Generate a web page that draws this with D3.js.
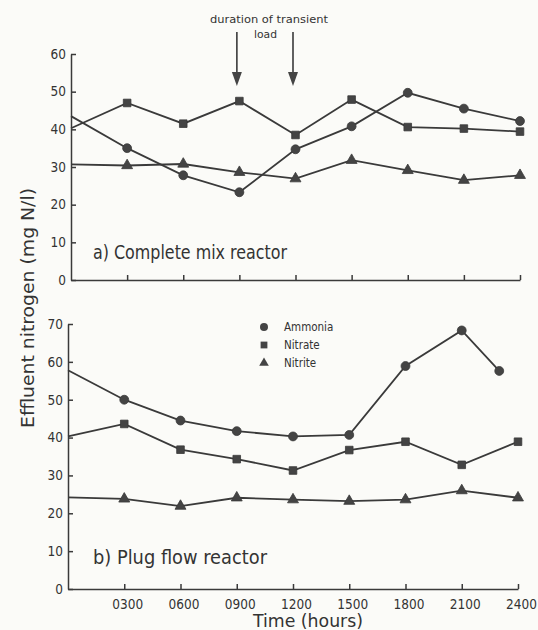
<!DOCTYPE html>
<html>
<head>
<meta charset="utf-8">
<script src="https://cdn.jsdelivr.net/npm/d3@7"></script>
<style>
  body { margin: 0; background: #fbfbf8; }
  svg { display: block; }
  text { font-family: "DejaVu Sans Condensed", "DejaVu Sans", sans-serif; fill: #333; font-stretch: condensed; }
  .axis path, .axis line { stroke: #3a3a3a; stroke-width: 1.5; }
  .axis text { font-size: 13.5px; fill: #333; font-family: "DejaVu Sans Condensed", "DejaVu Sans", sans-serif; }
</style>
</head>
<body>
<script>
// Effluent nitrogen, complete mix vs plug flow reactor

// time of day (hours)
var hours = [0, 300, 600, 900, 1200, 1500, 1800, 2100, 2400];
var tickHours = [300, 600, 900, 1200, 1500, 1800, 2100, 2400];

// a) complete mix reactor
var mixAmmonia = [43.5, 35, 27.8, 23.3, 34.7, 40.8, 49.7, 45.5, 42.2];
var mixNitrate = [40.3, 47, 41.5, 47.5, 38.5, 47.9, 40.6, 40.2, 39.4];
var mixNitrite = [30.7, 30.4, 30.8, 28.6, 26.9, 31.8, 29.1, 26.5, 27.8];

// b) plug flow reactor (ammonia last sample taken at 2300)
var plugAmmoniaHours = [0, 300, 600, 900, 1200, 1500, 1800, 2100, 2300];
var plugAmmonia = [57.8, 50, 44.5, 41.7, 40.3, 40.7, 58.9, 68.3, 57.6];
var plugNitrate = [40.3, 43.6, 36.8, 34.3, 31.3, 36.7, 38.9, 32.8, 38.9];
var plugNitrite = [24.2, 23.8, 21.9, 24.1, 23.6, 23.2, 23.6, 26, 24.1];

var legendNames = ["Ammonia", "Nitrate", "Nitrite"];
var arrowHours = [900, 1200];

var width = 538, height = 630;
var ink = "#3a3a3a";

var svg = d3.select("body").append("svg")
    .attr("width", width)
    .attr("height", height);

// scales for both panels
var xTop = d3.scaleLinear().domain([0, 2400]).range([71, 520]);
var yTop = d3.scaleLinear().domain([0, 60]).range([280, 54]);
var xBot = d3.scaleLinear().domain([0, 2400]).range([68, 518]);
var yBot = d3.scaleLinear().domain([0, 70]).range([589, 324]);

var symbols = [d3.symbolCircle, d3.symbolSquare, d3.symbolTriangle];
var symSizes = [62, 58, 52];

function drawPanel(xScale, yScale, yMax, showLabels, series) {
    // x axis, ticks point up
    var xAxis = d3.axisBottom(xScale)
        .tickValues(tickHours)
        .tickSizeInner(-5)
        .tickSizeOuter(0)
        .tickPadding(7)
        .tickFormat(showLabels ? d3.format("04d") : "");
    var gx = svg.append("g")
        .attr("class", "x axis")
        .attr("transform", "translate(0," + yScale(0) + ")")
        .call(xAxis);
    gx.selectAll("text").attr("dy", "0.95em").attr("dx", 3);

    // y axis, ticks point right
    var yAxis = d3.axisLeft(yScale)
        .tickValues(d3.range(0, yMax + 1, 10))
        .tickSizeInner(-5)
        .tickSizeOuter(0)
        .tickPadding(6);
    var gy = svg.append("g")
        .attr("class", "y axis")
        .attr("transform", "translate(" + xScale(0) + ",0)")
        .call(yAxis);
    gy.selectAll("text").attr("x", -5);

    var line = d3.line()
        .x(function(d) { return xScale(d[0]); })
        .y(function(d) { return yScale(d[1]); });

    series.forEach(function(s, i) {
        var pts = s.x.map(function(h, j) { return [h, s.y[j]]; });
        svg.append("path")
            .datum(pts)
            .attr("d", line)
            .attr("fill", "none")
            .attr("stroke", ink)
            .attr("stroke-width", 1.8);

        // no marker on the axis itself
        svg.selectAll(null)
            .data(pts.filter(function(d) { return d[0] > 0; }))
            .enter().append("path")
            .attr("d", d3.symbol().type(symbols[i]).size(symSizes[i]))
            .attr("transform", function(d) {
                return "translate(" + xScale(d[0]) + "," + yScale(d[1]) + ")";
            })
            .attr("fill", "#444")
            .attr("stroke", ink)
            .attr("stroke-width", 0.8);
    });
}

drawPanel(xTop, yTop, 60, false, [
    {x: hours, y: mixAmmonia},
    {x: hours, y: mixNitrate},
    {x: hours, y: mixNitrite}
]);

drawPanel(xBot, yBot, 70, true, [
    {x: plugAmmoniaHours, y: plugAmmonia},
    {x: hours, y: plugNitrate},
    {x: hours, y: plugNitrite}
]);

// panel labels
svg.append("text")
    .attr("x", 93).attr("y", 259)
    .attr("font-size", 19)
    .attr("textLength", 194).attr("lengthAdjust", "spacingAndGlyphs")
    .text("a) Complete mix reactor");

svg.append("text")
    .attr("x", 93).attr("y", 564)
    .attr("font-size", 19)
    .attr("textLength", 174).attr("lengthAdjust", "spacingAndGlyphs")
    .text("b) Plug flow reactor");

// transient load annotation
svg.append("text")
    .attr("x", 210).attr("y", 23)
    .attr("font-size", 10.5)
    .attr("textLength", 118).attr("lengthAdjust", "spacingAndGlyphs")
    .text("duration of transient");
svg.append("text")
    .attr("x", 254).attr("y", 38)
    .attr("font-size", 10.5)
    .attr("textLength", 23).attr("lengthAdjust", "spacingAndGlyphs")
    .text("load");

arrowHours.forEach(function(h) {
    var ax = xTop(h) - 2.5;
    svg.append("line")
        .attr("x1", ax).attr("x2", ax)
        .attr("y1", 32).attr("y2", 74)
        .attr("stroke", ink).attr("stroke-width", 1.6);
    svg.append("path")
        .attr("d", "M" + (ax - 5) + ",72L" + (ax + 5) + ",72L" + ax + ",86Z")
        .attr("fill", "#444");
});

// legend
var legendY = [327, 345, 363];
legendNames.forEach(function(name, i) {
    svg.append("path")
        .attr("d", d3.symbol().type(symbols[i]).size(symSizes[i] - 12))
        .attr("transform", "translate(264," + legendY[i] + ")")
        .attr("fill", "#444");
    svg.append("text")
        .attr("x", 284).attr("y", legendY[i] + 4)
        .attr("font-size", 11.5)
        .text(name);
});

// axis titles
svg.append("text")
    .attr("transform", "translate(34,308) rotate(-90)")
    .attr("text-anchor", "middle")
    .attr("font-size", 17)
    .attr("textLength", 240).attr("lengthAdjust", "spacingAndGlyphs")
    .text("Effluent nitrogen (mg N/l)");

svg.append("text")
    .attr("x", 253).attr("y", 627)
    .attr("font-size", 17)
    .attr("textLength", 110).attr("lengthAdjust", "spacingAndGlyphs")
    .text("Time (hours)");
</script>
</body>
</html>
